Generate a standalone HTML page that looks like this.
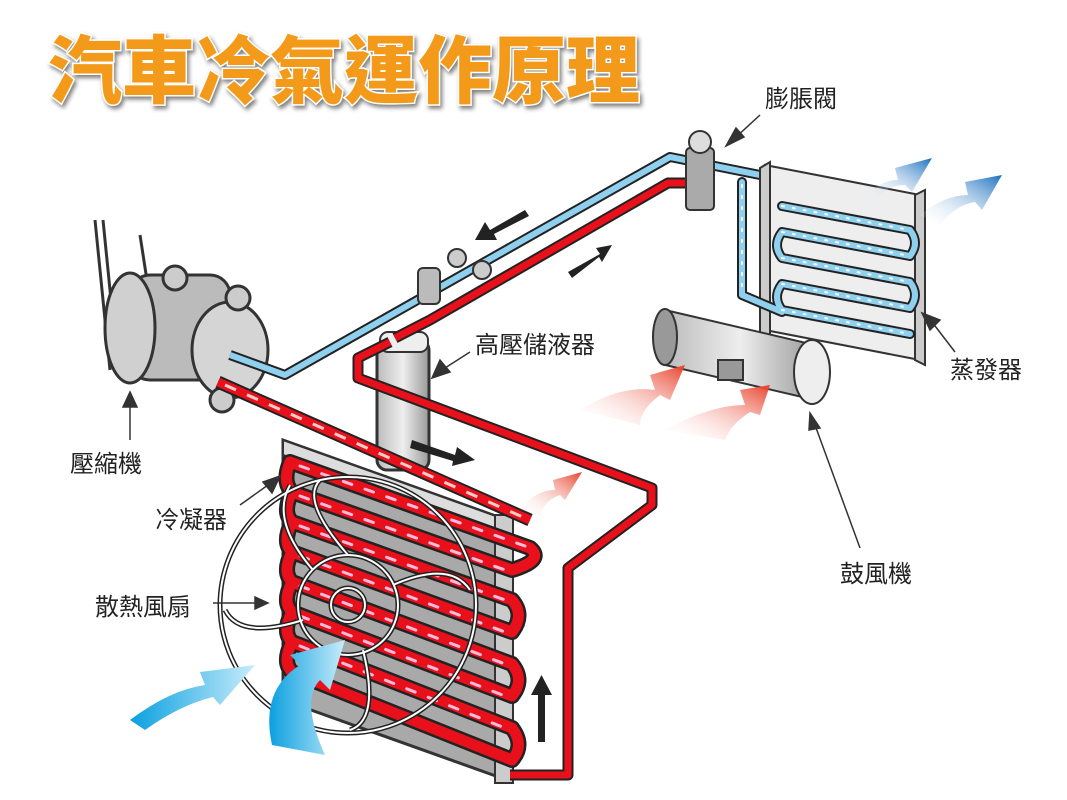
<!DOCTYPE html>
<html><head><meta charset="utf-8"><style>
html,body{margin:0;padding:0;background:#fff}
svg{display:block}
.lb{font-family:"Liberation Sans","Noto Sans CJK TC",sans-serif;font-size:24px;fill:#222}
</style></head><body>
<svg width="1067" height="800" viewBox="0 0 1067 800" xmlns="http://www.w3.org/2000/svg">
<defs>
<linearGradient id="met" x1="0" y1="0" x2="1" y2="0"><stop offset="0" stop-color="#bbb"/><stop offset=".5" stop-color="#eee"/><stop offset="1" stop-color="#999"/></linearGradient>
<linearGradient id="redA" x1="0" y1="1" x2="1" y2="0"><stop offset="0" stop-color="#fff" stop-opacity="0"/><stop offset="1" stop-color="#e8402a"/></linearGradient>
<linearGradient id="bluA" x1="0" y1="1" x2="1" y2="0"><stop offset="0" stop-color="#fff" stop-opacity="0"/><stop offset="1" stop-color="#1a6fc0"/></linearGradient>
<linearGradient id="cyA" x1="0" y1="0" x2="1" y2="0"><stop offset="0" stop-color="#0aa0e0"/><stop offset="1" stop-color="#c8ecfa"/></linearGradient>
</defs>

<text x="48" y="97" font-family="'Liberation Sans','Noto Sans CJK TC',sans-serif" font-size="74" font-weight="900" fill="#f39a1a" stroke="#fff" stroke-width="3" paint-order="stroke" style="filter:drop-shadow(2px 3px 2px rgba(0,0,0,.5))">汽車冷氣運作原理</text>

<path d="M95 220 L110 370 M103 220 L118 370 M140 235 L150 300" stroke="#333" stroke-width="3" fill="none"/>
<rect x="130" y="275" width="100" height="105" rx="20" fill="#bbb" stroke="#333" stroke-width="3"/>
<ellipse cx="130" cy="328" rx="25" ry="55" fill="#d0d0d0" stroke="#333" stroke-width="3"/>
<ellipse cx="230" cy="350" rx="38" ry="48" fill="#d5d5d5" stroke="#333" stroke-width="3"/>
<circle cx="175" cy="278" r="12" fill="#ccc" stroke="#333" stroke-width="3"/>
<circle cx="238" cy="298" r="12" fill="#ccc" stroke="#333" stroke-width="3"/>
<circle cx="222" cy="400" r="12" fill="#ccc" stroke="#333" stroke-width="3"/>

<path d="M283 440 L507 520 L507 780 L283 700 Z" fill="#a9a9a9" stroke="#333" stroke-width="3"/>
<path d="M283 440 L507 520 L507 535 L283 455 Z" fill="#ddd" stroke="#333" stroke-width="2"/>
<rect x="495" y="515" width="18" height="268" fill="#ccc" stroke="#333" stroke-width="2"/>
<g fill="none" stroke-linecap="round">
<g stroke="#222" stroke-width="16">
<path d="M290 462 L530 548 M290 462 Q282 482 292 492 L512 570 M292 492 Q282 512 292 522 L512 600 M292 522 Q282 542 292 552 L512 632 M292 552 Q282 572 292 582 L512 664 M292 582 Q282 602 292 612 L512 696 M292 612 Q282 632 292 642 L512 728 M292 642 Q282 662 292 672 L512 760 M530 548 Q545 560 512 570 M512 600 Q525 615 512 632 M512 664 Q525 680 512 696 M512 728 Q525 745 512 760"/>
</g>
<g stroke="#e8111b" stroke-width="11">
<path d="M290 462 L530 548 M290 462 Q282 482 292 492 L512 570 M292 492 Q282 512 292 522 L512 600 M292 522 Q282 542 292 552 L512 632 M292 552 Q282 572 292 582 L512 664 M292 582 Q282 602 292 612 L512 696 M292 612 Q282 632 292 642 L512 728 M292 642 Q282 662 292 672 L512 760 M530 548 Q545 560 512 570 M512 600 Q525 615 512 632 M512 664 Q525 680 512 696 M512 728 Q525 745 512 760"/>
</g>
<path d="M300 466 L525 546 M300 496 L505 570 M300 526 L505 600 M300 556 L505 632 M300 586 L505 664 M300 616 L505 696 M300 646 L505 728" stroke="#fbd" stroke-width="3" stroke-dasharray="9 14"/>
</g>
<g fill="none" stroke="#222" stroke-width="5"><circle cx="348" cy="605" r="128"/><circle cx="348" cy="605" r="50"/><circle cx="348" cy="605" r="17"/>
<path d="M348 555 Q300 500 320 480 M393 585 Q450 560 470 590 M363 650 Q380 720 350 730 M303 620 Q240 640 225 610 M313 570 Q270 520 290 485"/></g>
<g fill="none" stroke="#fff" stroke-width="2"><circle cx="348" cy="605" r="128"/><circle cx="348" cy="605" r="50"/><circle cx="348" cy="605" r="17"/>
<path d="M348 555 Q300 500 320 480 M393 585 Q450 560 470 590 M363 650 Q380 720 350 730 M303 620 Q240 640 225 610 M313 570 Q270 520 290 485"/></g>

<rect x="377" y="340" width="52" height="130" rx="10" fill="url(#met)" stroke="#333" stroke-width="3"/>
<rect x="380" y="332" width="48" height="20" rx="8" fill="#eee" stroke="#333" stroke-width="2"/>

<g fill="none" stroke-linejoin="round">
<path d="M230 355 L285 375 L670 157 L760 175" stroke="#222" stroke-width="10"/>
<path d="M230 355 L285 375 L670 157 L760 175" stroke="#8fd0ee" stroke-width="6"/>
<path d="M700 183 L668 183 L430 320 L395 338 M390 342 L358 358 L358 378 L652 488 L652 505 L568 568 L568 775 L510 775" stroke="#222" stroke-width="11"/>
<path d="M700 183 L668 183 L430 320 L395 338 M390 342 L358 358 L358 378 L652 488 L652 505 L568 568 L568 775 L510 775" stroke="#e8111b" stroke-width="7"/>
<path d="M218 382 L530 520" stroke="#222" stroke-width="13"/>
<path d="M218 382 L530 520" stroke="#e8111b" stroke-width="9"/>
<path d="M225 385 L525 518" stroke="#fcc" stroke-width="3" stroke-dasharray="12 12"/>
</g>
<rect x="418" y="268" width="22" height="36" rx="5" fill="#bbb" stroke="#333" stroke-width="2"/>
<circle cx="457" cy="258" r="9" fill="#ccc" stroke="#333" stroke-width="2"/>
<circle cx="482" cy="270" r="9" fill="#ccc" stroke="#333" stroke-width="2"/>
<rect x="686" y="148" width="28" height="62" rx="4" fill="#aaa" stroke="#333" stroke-width="2"/>
<circle cx="700" cy="142" r="11" fill="#ddd" stroke="#333" stroke-width="2"/>

<path d="M765 165 L920 195 L920 360 L765 330 Z" fill="#eee" stroke="#333" stroke-width="2"/>
<path d="M760 168 L770 162 L770 340 L760 334 Z M915 195 L925 190 L925 365 L915 360 Z" fill="#ccc" stroke="#333" stroke-width="2"/>
<g fill="none" stroke-linejoin="round" stroke-linecap="round">
<path d="M742 182 L742 295 L782 312 M782 206 L910 230 Q920 243 910 256 L782 232 Q772 245 782 258 L910 282 Q920 295 910 308 L782 284 Q772 297 782 310 L910 334" stroke="#222" stroke-width="10"/>
<path d="M742 182 L742 295 L782 312 M782 206 L910 230 Q920 243 910 256 L782 232 Q772 245 782 258 L910 282 Q920 295 910 308 L782 284 Q772 297 782 310 L910 334" stroke="#8fd0ee" stroke-width="6"/>
<path d="M742 185 L742 290 M782 206 L910 230 M782 232 L910 256 M782 258 L910 282 M782 284 L910 308 M782 310 L910 334" stroke="#fff" stroke-width="2" stroke-dasharray="2 9"/>
</g>

<path d="M665 310 L815 345 L815 400 L665 365 Z" fill="url(#met)" stroke="#333" stroke-width="2"/>
<ellipse cx="665" cy="337" rx="12" ry="28" fill="#999" stroke="#333" stroke-width="2"/>
<ellipse cx="812" cy="372" rx="18" ry="32" fill="#eee" stroke="#333" stroke-width="2"/>
<rect x="718" y="360" width="25" height="20" fill="#999" stroke="#333" stroke-width="2"/>

<path d="M580 410 Q620 385 655 390 L650 375 L685 365 L670 400 L660 395 Q640 410 640 425 Z" fill="url(#redA)"/>
<path d="M665 430 Q710 405 745 405 L740 390 L770 385 L760 415 L750 412 Q730 425 725 440 Z" fill="url(#redA)"/>
<path d="M520 510 Q535 490 555 490 L553 480 L582 472 L565 500 L560 495 Q545 500 540 515 Z" fill="url(#redA)"/>
<path d="M865 198 Q880 180 898 180 L895 168 L932 158 L912 192 L905 185 Q888 185 875 200 Z" fill="url(#bluA)"/>
<path d="M920 215 Q945 195 968 195 L965 182 L1002 175 L982 210 L975 202 Q955 205 940 225 Z" fill="url(#bluA)"/>
<path d="M130 720 Q170 690 205 685 L200 672 L255 665 L220 705 L213 697 Q180 705 145 730 Z" fill="url(#cyA)"/>
<path d="M272 745 Q260 690 300 665 L290 655 L345 640 L330 690 L320 680 Q300 700 325 755 Z" fill="url(#cyA)"/>

<g fill="#222">
<path d="M525 210 L490 230 L485 222 L475 240 L497 240 L494 234 L529 216 Z"/>
<path d="M568 272 L600 254 L596 248 L612 245 L602 262 L599 257 L572 278 Z"/>
<path d="M412 440 L455 455 L457 447 L475 460 L452 466 L453 461 L410 448 Z"/>
<path d="M538 742 L545 742 L545 695 L552 695 L541.5 675 L531 695 L538 695 Z"/>
</g>

<g stroke="#333" stroke-width="1.5" fill="#333">
<line x1="760" y1="115" x2="735" y2="138"/><path d="M726 146 L736 128 L744 137 Z"/>
<line x1="470" y1="352" x2="445" y2="368"/><path d="M432 378 L440 360 L450 372 Z"/>
<line x1="955" y1="352" x2="932" y2="322"/><path d="M922 313 L940 320 L930 330 Z"/>
<line x1="130" y1="440" x2="130" y2="405"/><path d="M130 392 L137 407 L123 407 Z"/>
<line x1="240" y1="505" x2="268" y2="485"/><path d="M280 476 L272 493 L263 482 Z"/>
<line x1="213" y1="603" x2="258" y2="603"/><path d="M268 603 L255 609 L255 597 Z"/>
<line x1="860" y1="548" x2="815" y2="425"/><path d="M810 413 L820 428 L809 430 Z"/>
</g>
<text class="lb" x="765" y="107">膨脹閥</text>
<text class="lb" x="475" y="353">高壓儲液器</text>
<text class="lb" x="950" y="378">蒸發器</text>
<text class="lb" x="70" y="472">壓縮機</text>
<text class="lb" x="155" y="528">冷凝器</text>
<text class="lb" x="95" y="615">散熱風扇</text>
<text class="lb" x="840" y="582">鼓風機</text>
</svg>
</body></html>
